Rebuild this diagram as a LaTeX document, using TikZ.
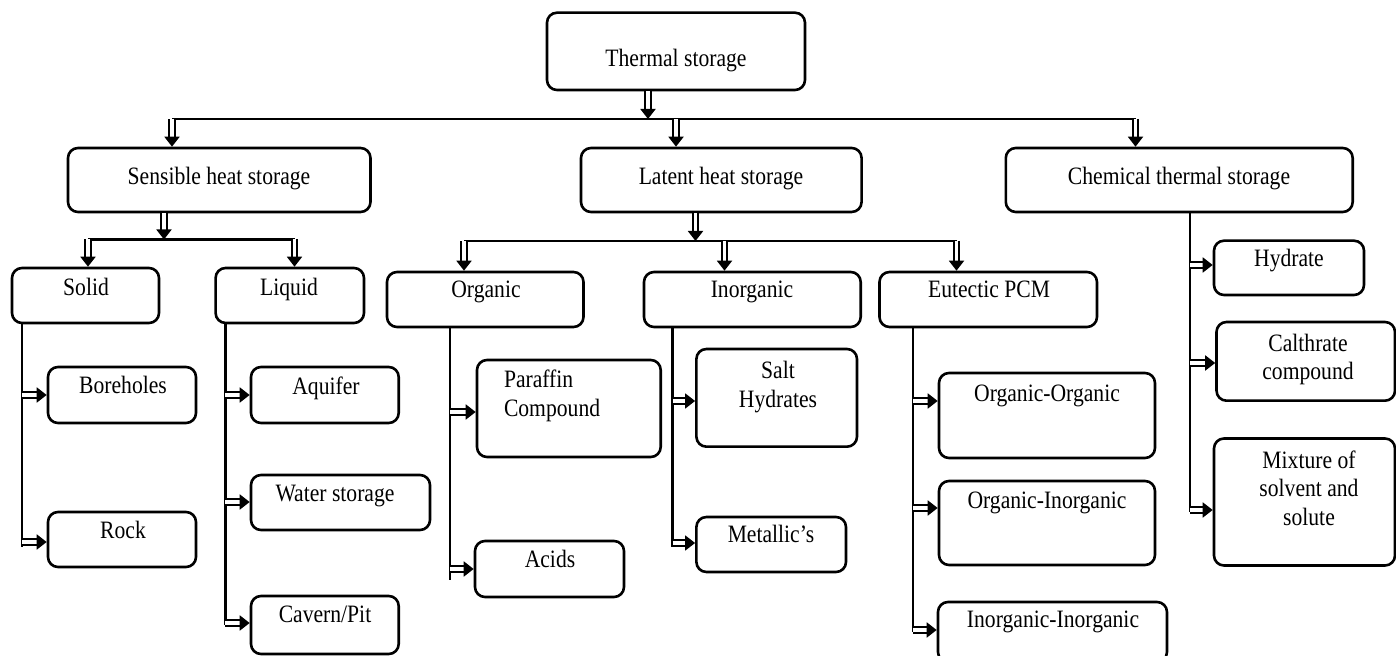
\documentclass[tikz,border=0pt]{standalone}
\usepackage{fontspec}
\setmainfont{Liberation Serif}[FakeStretch=0.865]
\usetikzlibrary{arrows.meta,fit}

\tikzset{
  box/.style={draw, line width=1.3pt, rounded corners=5pt, inner sep=0pt, fit={#1}},
  txt/.style={inner sep=0pt, font=\fontsize{12.5}{14.2}\selectfont},
  bus/.style={line width=1.4pt},
  dbl/.style={double, double distance=1.7pt, line width=0.95pt, -{Triangle[length=5pt,width=7.5pt]}}
}

\begin{document}
\begin{tikzpicture}[x=0.5pt, y=-0.5pt]
  \useasboundingbox (0,0) rectangle (1396,656);

  \node[box={(547,12.7) (805,90)}]          (ts) {};
  \node[txt, anchor=base] (ts-t) at (676,66.5) {Thermal storage};

  \node[box={(68,148) (370.5,212)}]         (sh) {};
  \node[txt, anchor=base] (sh-t) at (219,185) {Sensible heat storage};
  \node[box={(581,148) (861.6,212)}]        (lh) {};
  \node[txt, anchor=base] (lh-t) at (721,185) {Latent heat storage};
  \node[box={(1005.8,148) (1352.7,212)}]    (ch) {};
  \node[txt, anchor=base] (ch-t) at (1179,185) {Chemical thermal storage};

  \node[box={(12,268) (159,323)}]           (so) {};
  \node[txt, anchor=base] (so-t) at (86,296) {Solid};
  \node[box={(215.6,268) (364,323)}]        (li) {};
  \node[txt, anchor=base] (li-t) at (289,296) {Liquid};
  \node[box={(387,272) (583.5,327)}]        (or) {};
  \node[txt, anchor=base] (or-t) at (486,298) {Organic};
  \node[box={(644,272) (860.7,327)}]        (in) {};
  \node[txt, anchor=base] (in-t) at (752,298) {Inorganic};
  \node[box={(879.5,272) (1097,327)}]       (eu) {};
  \node[txt, anchor=base] (eu-t) at (989,298) {Eutectic PCM};

  \node[box={(48,367) (196,423)}]           (bh) {};
  \node[txt, anchor=base] (bh-t) at (123,394) {Boreholes};
  \node[box={(48,512) (196,567)}]           (rk) {};
  \node[txt, anchor=base] (rk-t) at (123,539) {Rock};

  \node[box={(251,367) (398.7,423)}]        (aq) {};
  \node[txt, anchor=base] (aq-t) at (326,395) {Aquifer};
  \node[box={(251,475) (430,530)}]          (ws) {};
  \node[txt, anchor=base] (ws-t) at (335,502) {Water storage};
  \node[box={(251,596) (398.7,654)}]        (cp) {};
  \node[txt, anchor=base] (cp-t) at (325,623) {Cavern/Pit};

  \node[box={(477,360) (660.7,457)}]        (pc) {};
  \node[txt, anchor=north west, align=left] (pc-t) at (503.6,370) {Paraffin\\Compound};
  \node[box={(475,541) (624,597)}]          (ac) {};
  \node[txt, anchor=base] (ac-t) at (550,568) {Acids};

  \node[box={(696.4,349) (857,446.7)}]      (sa) {};
  \node[txt, anchor=north, align=center] (sa-t) at (778,361) {Salt\\Hydrates};
  \node[box={(696.4,517) (846,572)}]        (me) {};
  \node[txt, anchor=base] (me-t) at (771,543) {Metallic’s};

  \node[box={(939,373) (1155,458)}]         (oo) {};
  \node[txt, anchor=base] (oo-t) at (1047,402) {Organic-Organic};
  \node[box={(939,481) (1155,565)}]         (oi) {};
  \node[txt, anchor=base] (oi-t) at (1047,509) {Organic-Inorganic};
  \node[box={(938,602) (1167,662)}]         (ii) {};
  \node[txt, anchor=base] (ii-t) at (1053,627) {Inorganic-Inorganic};

  \node[box={(1214,240.7) (1364,295)}]      (hy) {};
  \node[txt, anchor=base] (hy-t) at (1289,267) {Hydrate};
  \node[box={(1216.5,322) (1395,400.7)}]    (ca) {};
  \node[txt, anchor=north, align=center] (ca-t) at (1308,333.5) {Calthrate\\compound};
  \node[box={(1214,438.5) (1395,565.5)}]    (mx) {};
  \node[txt, anchor=north, align=center] (mx-t) at (1309,450.5) {Mixture of\\solvent and\\solute};

  \coordinate (b0) at (648,119);
  \coordinate (b1) at (172,119);
  \coordinate (b2) at (676,119);
  \coordinate (b3) at (1135.5,119);
  \draw[bus] (b1) -- (b3);
  \draw[dbl] (b0 |- ts.south) -- (b0);
  \draw[dbl] (b1) -- (b1 |- sh.north);
  \draw[dbl] (b2) -- (b2 |- lh.north);
  \draw[dbl] (b3) -- (b3 |- ch.north);

  \coordinate (s0) at (164,239.5);
  \coordinate (s1) at (88,239.5);
  \coordinate (s2) at (294.5,239.5);
  \draw[bus] (s1) -- (s2);
  \draw[dbl] (s0 |- sh.south) -- (s0);
  \draw[dbl] (s1) -- (s1 |- so.north);
  \draw[dbl] (s2) -- (s2 |- li.north);

  \coordinate (l0) at (695.5,241);
  \coordinate (l1) at (464,241);
  \coordinate (l2) at (724.5,241);
  \coordinate (l3) at (956.5,241);
  \draw[bus] (l1) -- (l3);
  \draw[dbl] (l0 |- lh.south) -- (l0);
  \draw[dbl] (l1) -- (l1 |- or.north);
  \draw[dbl] (l2) -- (l2 |- in.north);
  \draw[dbl] (l3) -- (l3 |- eu.north);

  \coordinate (so-e) at (22,547);
  \coordinate (li-e) at (225.4,625);
  \coordinate (or-e) at (450,580);
  \coordinate (in-e) at (672.8,547);
  \coordinate (eu-e) at (913,632);
  \coordinate (ch-e) at (1190,512);
  \draw[bus] (so-e |- so.south) -- (so-e);
  \draw[bus] (li-e |- li.south) -- (li-e);
  \draw[bus] (or-e |- or.south) -- (or-e);
  \draw[bus] (in-e |- in.south) -- (in-e);
  \draw[bus] (eu-e |- eu.south) -- (eu-e);
  \draw[bus] (ch-e |- ch.south) -- (ch-e);

  \coordinate (so1) at (22,395);    \draw[dbl] (so1) -- (so1 -| bh.west);
  \coordinate (so2) at (22,542);    \draw[dbl] (so2) -- (so2 -| rk.west);
  \coordinate (li1) at (225.4,395); \draw[dbl] (li1) -- (li1 -| aq.west);
  \coordinate (li2) at (225.4,502); \draw[dbl] (li2) -- (li2 -| ws.west);
  \coordinate (li3) at (225.4,623); \draw[dbl] (li3) -- (li3 -| cp.west);
  \coordinate (or1) at (450,412);   \draw[dbl] (or1) -- (or1 -| pc.west);
  \coordinate (or2) at (450,569);   \draw[dbl] (or2) -- (or2 -| ac.west);
  \coordinate (in1) at (672.8,401); \draw[dbl] (in1) -- (in1 -| sa.west);
  \coordinate (in2) at (672.8,543); \draw[dbl] (in2) -- (in2 -| me.west);
  \coordinate (eu1) at (913,401);   \draw[dbl] (eu1) -- (eu1 -| oo.west);
  \coordinate (eu2) at (913,508);   \draw[dbl] (eu2) -- (eu2 -| oi.west);
  \coordinate (eu3) at (913,630);   \draw[dbl] (eu3) -- (eu3 -| ii.west);
  \coordinate (ch1) at (1190,265);  \draw[dbl] (ch1) -- (ch1 -| hy.west);
  \coordinate (ch2) at (1190,363);  \draw[dbl] (ch2) -- (ch2 -| ca.west);
  \coordinate (ch3) at (1190,510);  \draw[dbl] (ch3) -- (ch3 -| mx.west);
\end{tikzpicture}
\end{document}
